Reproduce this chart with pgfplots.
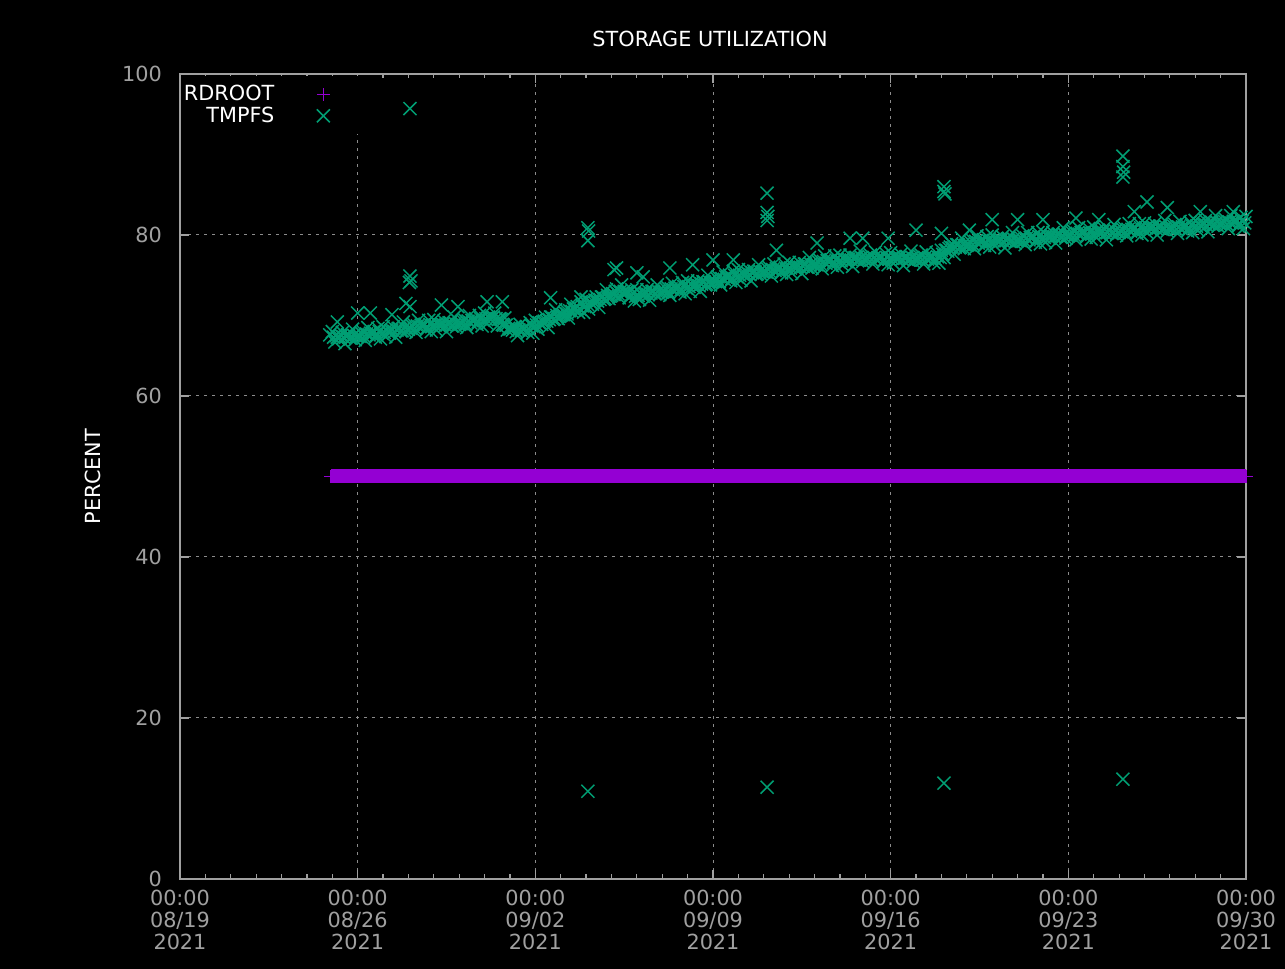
\documentclass[border=0pt]{standalone}
\usepackage{pgfplots}
\pgfplotsset{compat=1.18}
\usepackage{fontspec}
\setmainfont{DejaVu Sans}
\definecolor{rdroot}{HTML}{9400D3}
\definecolor{tmpfs}{HTML}{009E73}
\definecolor{axgray}{HTML}{A0A0A0}
\definecolor{gridgray}{HTML}{8C8C8C}
\newcommand{\lblfont}{\fontsize{10.4}{11}\selectfont}

% TMPFS: main band (three interleaved samplings), points above the band, outliers
\pgfplotstableread{
day val
5.9 67.6
6.0 68.0
6.2 67.3
6.4 67.9
6.6 67.6
6.8 68.3
7.0 67.4
7.2 68.0
7.4 68.5
7.6 67.8
7.8 68.4
8.0 68.6
8.2 68.0
8.4 68.6
8.6 68.4
8.8 69.2
9.0 68.3
9.2 68.9
9.4 69.4
9.6 68.8
9.8 69.4
10.0 69.5
10.2 68.8
10.4 69.3
10.6 69.1
10.8 69.8
11.0 68.9
11.2 69.5
11.4 70.0
11.6 69.4
11.8 70.0
12.0 70.3
12.2 69.7
12.4 70.3
12.6 69.6
12.8 69.7
13.0 68.3
13.2 68.6
13.4 68.9
13.6 68.4
13.8 69.1
14.0 69.4
14.2 69.0
14.4 69.8
14.6 69.8
14.8 70.7
15.0 70.0
15.2 70.7
15.4 71.4
15.6 70.9
15.8 71.7
16.0 72.0
16.2 71.6
16.4 72.3
16.6 72.3
16.8 73.2
17.0 72.5
17.2 73.3
17.4 73.8
17.6 72.9
17.8 73.2
18.0 73.2
18.2 72.6
18.4 73.2
18.6 73.0
18.8 73.8
19.0 72.9
19.2 73.5
19.4 74.0
19.6 73.4
19.8 74.1
20.0 74.3
20.2 73.7
20.4 74.3
20.6 74.2
20.8 75.0
21.0 74.2
21.2 74.8
21.4 75.4
21.6 74.8
21.8 75.5
22.0 75.7
22.2 75.1
22.4 75.7
22.6 75.5
22.8 76.3
23.0 75.4
23.2 76.0
23.4 76.4
23.6 75.8
23.8 76.4
24.0 76.6
24.2 76.0
24.4 76.6
24.6 76.4
24.8 77.2
25.0 76.3
25.2 76.9
25.4 77.4
25.6 76.8
25.8 77.4
26.0 77.5
26.2 76.9
26.4 77.5
26.6 77.2
26.8 78.0
27.0 77.0
27.2 77.5
27.4 77.9
27.6 77.2
27.8 77.7
28.0 77.8
28.2 77.1
28.4 77.6
28.6 77.3
28.8 78.0
29.0 77.0
29.2 77.5
29.4 77.9
29.6 77.2
29.8 77.8
30.0 78.1
30.2 78.1
30.4 78.9
30.6 78.8
30.8 79.6
31.0 78.7
31.2 79.4
31.4 79.9
31.6 79.3
31.8 79.8
32.0 80.0
32.2 79.3
32.4 79.8
32.6 79.5
32.8 80.3
33.0 79.3
33.2 79.9
33.4 80.3
33.6 79.7
33.8 80.3
34.0 80.4
34.2 79.8
34.4 80.3
34.6 80.1
34.8 80.9
35.0 79.9
35.2 80.5
35.4 80.9
35.6 80.3
35.8 80.8
36.0 81.0
36.2 80.3
36.4 80.8
36.6 80.6
36.8 81.3
37.0 80.3
37.2 80.9
37.4 81.4
37.6 80.8
37.8 81.4
38.0 81.5
38.2 80.9
38.4 81.4
38.6 81.1
38.8 81.8
39.0 80.8
39.2 81.3
39.4 81.7
39.6 81.0
39.8 81.6
40.0 81.8
40.2 81.2
40.4 81.8
40.6 81.6
40.8 82.4
41.0 81.4
41.2 81.9
41.4 82.4
41.6 81.7
41.8 82.2
42.0 82.3
6.1 66.7
6.3 67.3
6.5 66.5
6.7 67.2
6.9 67.0
7.1 67.4
7.3 66.9
7.5 67.8
7.7 67.3
7.9 67.1
8.1 67.4
8.3 68.1
8.5 67.3
8.7 68.1
8.9 68.0
9.1 68.4
9.3 67.9
9.5 68.8
9.7 68.2
9.9 68.0
10.1 68.2
10.3 68.8
10.5 68.0
10.7 68.7
10.9 68.6
11.1 69.0
11.3 68.5
11.5 69.4
11.7 68.9
11.9 68.7
12.1 69.0
12.3 69.7
12.5 68.7
12.7 68.9
12.9 68.2
13.1 68.2
13.3 67.5
13.5 68.3
13.7 67.9
13.9 67.8
14.1 68.3
14.3 69.2
14.5 68.5
14.7 69.5
14.9 69.6
15.1 70.1
15.3 69.7
15.5 70.8
15.7 70.4
15.9 70.4
16.1 70.8
16.3 71.7
16.5 71.0
16.7 72.0
16.9 72.1
17.1 72.6
17.3 72.2
17.5 73.0
17.7 72.2
17.9 71.8
18.1 72.0
18.3 72.7
18.5 71.9
18.7 72.7
18.9 72.6
19.1 73.0
19.3 72.5
19.5 73.4
19.7 72.9
19.9 72.7
20.1 73.0
20.3 73.8
20.5 73.0
20.7 73.8
20.9 73.8
21.1 74.2
21.3 73.8
21.5 74.8
21.7 74.3
21.9 74.1
22.1 74.4
22.3 75.1
22.5 74.3
22.7 75.1
22.9 75.1
23.1 75.4
23.3 74.9
23.5 75.8
23.7 75.3
23.9 75.1
24.1 75.3
24.3 76.0
24.5 75.2
24.7 76.0
24.9 75.9
25.1 76.3
25.3 75.8
25.5 76.8
25.7 76.2
25.9 76.0
26.1 76.3
26.3 76.9
26.5 76.1
26.7 76.8
26.9 76.7
27.1 77.0
27.3 76.4
27.5 77.2
27.7 76.6
27.9 76.3
28.1 76.5
28.3 77.1
28.5 76.2
28.7 76.9
28.9 76.7
29.1 77.0
29.3 76.4
29.5 77.2
29.7 76.6
29.9 76.5
30.1 77.2
30.3 78.3
30.5 77.6
30.7 78.4
30.9 78.3
31.1 78.8
31.3 78.3
31.5 79.2
31.7 78.7
31.9 78.5
32.1 78.7
32.3 79.3
32.5 78.4
32.7 79.2
32.9 79.0
33.1 79.3
33.3 78.8
33.5 79.7
33.7 79.1
33.9 78.9
34.1 79.1
34.3 79.8
34.5 79.0
34.7 79.7
34.9 79.6
35.1 80.0
35.3 79.4
35.5 80.3
35.7 79.7
35.9 79.5
36.1 79.7
36.3 80.3
36.5 79.4
36.7 80.2
36.9 80.0
37.1 80.4
37.3 79.9
37.5 80.7
37.7 80.2
37.9 80.0
38.1 80.3
38.3 80.9
38.5 80.0
38.7 80.7
38.9 80.5
39.1 80.8
39.3 80.2
39.5 81.0
39.7 80.5
39.9 80.3
40.1 80.6
40.3 81.3
40.5 80.4
40.7 81.2
40.9 81.1
41.1 81.4
41.3 80.8
41.5 81.7
41.7 81.1
41.9 80.8
6.05 67.3
6.15 67.5
6.25 67.1
6.35 67.5
6.45 67.3
6.55 67.4
6.65 67.6
6.75 67.2
6.85 67.5
6.95 67.4
7.05 67.5
7.15 67.8
7.25 67.4
7.35 67.7
7.45 67.6
7.55 67.7
7.65 68.0
7.75 67.6
7.85 68.0
7.95 67.8
8.05 67.9
8.15 68.2
8.25 67.8
8.35 68.2
8.45 68.0
8.55 68.2
8.65 68.4
8.75 68.1
8.85 68.5
8.95 68.3
9.05 68.5
9.15 68.7
9.25 68.4
9.35 68.7
9.45 68.6
9.55 68.7
9.65 68.9
9.75 68.5
9.85 68.9
9.95 68.7
10.05 68.8
10.15 69.0
10.25 68.6
10.35 68.9
10.45 68.8
10.55 68.9
10.65 69.1
10.75 68.7
10.85 69.0
10.95 68.9
11.05 69.0
11.15 69.3
11.25 68.9
11.35 69.3
11.45 69.1
11.55 69.3
11.65 69.6
11.75 69.2
11.85 69.6
11.95 69.4
12.05 69.6
12.15 69.8
12.25 69.5
12.35 69.8
12.45 69.6
12.55 69.5
12.65 69.5
12.75 68.8
12.85 68.8
12.95 68.4
13.05 68.4
13.15 68.5
13.25 68.0
13.35 68.2
13.45 68.1
13.55 68.3
13.65 68.6
13.75 68.3
13.85 68.7
13.95 68.6
14.05 68.8
14.15 69.1
14.25 68.9
14.35 69.3
14.45 69.3
14.55 69.5
14.65 69.8
14.75 69.6
14.85 70.0
14.95 69.9
15.05 70.1
15.15 70.4
15.25 70.2
15.35 70.6
15.45 70.5
15.55 70.7
15.65 71.1
15.75 70.8
15.85 71.2
15.95 71.1
16.05 71.4
16.15 71.7
16.25 71.4
16.35 71.9
16.45 71.8
16.55 72.0
16.65 72.3
16.75 72.1
16.85 72.5
16.95 72.4
17.05 72.7
17.15 73.0
17.25 72.7
17.35 73.0
17.45 72.8
17.55 72.8
17.65 73.0
17.75 72.5
17.85 72.7
17.95 72.4
18.05 72.5
18.15 72.8
18.25 72.4
18.35 72.8
18.45 72.6
18.55 72.8
18.65 73.0
18.75 72.7
18.85 73.0
18.95 72.9
19.05 73.0
19.15 73.3
19.25 72.9
19.35 73.3
19.45 73.2
19.55 73.3
19.65 73.6
19.75 73.2
19.85 73.6
19.95 73.4
20.05 73.6
20.15 73.9
20.25 73.5
20.35 73.9
20.45 73.7
20.55 73.9
20.65 74.2
20.75 73.9
20.85 74.2
20.95 74.1
21.05 74.3
21.15 74.6
21.25 74.2
21.35 74.6
21.45 74.5
21.55 74.7
21.65 75.0
21.75 74.6
21.85 75.0
21.95 74.8
22.05 75.0
22.15 75.2
22.25 74.9
22.35 75.3
22.45 75.1
22.55 75.3
22.65 75.5
22.75 75.2
22.85 75.5
22.95 75.4
23.05 75.5
23.15 75.8
23.25 75.4
23.35 75.7
23.45 75.6
23.55 75.7
23.65 75.9
23.75 75.6
23.85 75.9
23.95 75.8
24.05 75.9
24.15 76.1
24.25 75.8
24.35 76.1
24.45 76.0
24.55 76.1
24.65 76.4
24.75 76.0
24.85 76.4
24.95 76.3
25.05 76.4
25.15 76.7
25.25 76.3
25.35 76.7
25.45 76.5
25.55 76.7
25.65 76.9
25.75 76.6
25.85 76.9
25.95 76.7
26.05 76.8
26.15 77.1
26.25 76.7
26.35 77.0
26.45 76.9
26.55 77.0
26.65 77.2
26.75 76.9
26.85 77.2
26.95 77.0
27.05 77.1
27.15 77.3
27.25 76.9
27.35 77.2
27.45 77.0
27.55 77.1
27.65 77.3
27.75 76.9
27.85 77.2
27.95 77.0
28.05 77.1
28.15 77.3
28.25 76.9
28.35 77.2
28.45 77.0
28.55 77.1
28.65 77.3
28.75 76.9
28.85 77.2
28.95 77.0
29.05 77.1
29.15 77.3
29.25 76.9
29.35 77.2
29.45 77.0
29.55 77.1
29.65 77.3
29.75 77.0
29.85 77.3
29.95 77.2
30.05 77.6
30.15 78.1
30.25 78.0
30.35 78.5
30.45 78.4
30.55 78.5
30.65 78.8
30.75 78.5
30.85 78.8
30.95 78.7
31.05 78.8
31.15 79.1
31.25 78.8
31.35 79.2
31.45 79.0
31.55 79.2
31.65 79.4
31.75 79.0
31.85 79.3
31.95 79.2
32.05 79.3
32.15 79.5
32.25 79.1
32.35 79.4
32.45 79.2
32.55 79.3
32.65 79.6
32.75 79.2
32.85 79.5
32.95 79.3
33.05 79.4
33.15 79.6
33.25 79.3
33.35 79.6
33.45 79.4
33.55 79.6
33.65 79.8
33.75 79.4
33.85 79.8
33.95 79.6
34.05 79.7
34.15 80.0
34.25 79.6
34.35 79.9
34.45 79.8
34.55 79.9
34.65 80.1
34.75 79.7
34.85 80.1
34.95 79.9
35.05 80.0
35.15 80.3
35.25 79.9
35.35 80.2
35.45 80.1
35.55 80.2
35.65 80.4
35.75 80.0
35.85 80.3
35.95 80.2
36.05 80.3
36.15 80.5
36.25 80.1
36.35 80.4
36.45 80.2
36.55 80.3
36.65 80.6
36.75 80.2
36.85 80.5
36.95 80.3
37.05 80.5
37.15 80.7
37.25 80.3
37.35 80.7
37.45 80.5
37.55 80.7
37.65 80.9
37.75 80.5
37.85 80.9
37.95 80.7
38.05 80.9
38.15 81.1
38.25 80.7
38.35 81.0
38.45 80.8
38.55 80.9
38.65 81.1
38.75 80.7
38.85 81.0
38.95 80.8
39.05 80.9
39.15 81.1
39.25 80.7
39.35 81.0
39.45 80.8
39.55 80.9
39.65 81.2
39.75 80.8
39.85 81.2
39.95 81.0
40.05 81.1
40.15 81.4
40.25 81.0
40.35 81.4
40.45 81.2
40.55 81.4
40.65 81.6
40.75 81.3
40.85 81.6
40.95 81.4
41.05 81.5
41.15 81.7
41.25 81.3
41.35 81.6
41.45 81.5
41.55 81.6
41.65 81.8
41.75 81.4
41.85 81.7
41.95 81.5
6.2 69.2
7.0 70.3
7.5 70.3
8.35 70.1
8.9 71.5
9.06 71.1
10.3 71.3
10.95 71.1
12.1 71.7
12.7 71.7
14.6 72.2
15.8 72.3
17.1 75.7
17.2 75.9
18.0 75.3
18.25 74.8
19.3 75.9
20.2 76.3
21.0 76.9
21.8 76.9
23.5 78.1
25.1 79.0
26.4 79.6
26.9 79.6
27.9 79.6
29.0 80.6
30.0 80.2
31.1 80.6
32.0 81.9
33.0 81.9
34.0 81.9
35.3 82.1
36.2 81.9
37.6 82.9
38.1 84.1
38.9 83.4
40.2 82.9
41.5 82.9
9.06 95.7
9.06 74.9
9.10 74.3
9.04 74.1
16.07 80.9
16.10 80.5
16.07 79.3
16.07 10.9
23.13 85.2
23.13 82.8
23.16 82.3
23.13 81.8
23.13 11.4
30.10 86.0
30.10 85.4
30.14 85.1
30.10 11.9
37.15 89.8
37.15 88.5
37.18 87.8
37.15 87.2
37.15 12.4
}\tmpfsdata

\begin{document}
\begin{tikzpicture}
\fill[black] (0,0) rectangle (642.5pt,484.5pt);
\begin{axis}[
  at={(90pt,45pt)}, anchor=south west,
  scale only axis, width=533pt, height=402.5pt,
  xmin=0, xmax=42, ymin=0, ymax=100,
  clip=false,
  xtick={0,7,14,21,28,35,42},
  xticklabels={{00:00\\08/19\\2021},{00:00\\08/26\\2021},{00:00\\09/02\\2021},{00:00\\09/09\\2021},{00:00\\09/16\\2021},{00:00\\09/23\\2021},{00:00\\09/30\\2021}},
  minor x tick num=6,
  ytick={0,20,40,60,80,100},
  tick align=inside,
  major tick length=4.5pt, minor tick length=2.25pt,
  axis line style={axgray, line width=0.8pt},
  tick style={axgray, line width=0.6pt},
  grid=major,
  major grid style={gridgray, line width=0.5pt, dash pattern=on 1.6pt off 2.4pt},
  tick label style={text=axgray, font=\lblfont},
  xticklabel style={align=center, yshift=-2pt},
  yticklabel style={xshift=-5.5pt},
  /pgf/number format/assume math mode=true,
  title={STORAGE UTILIZATION},
  title style={at={(axis description cs:0.5,1)}, anchor=center, yshift=11.5pt, xshift=-1.5pt, text=white, font=\lblfont},
  ylabel={PERCENT},
  ylabel style={at={([xshift=-43.5pt]axis description cs:0,0.5)}, anchor=center, text=white, font=\lblfont},
  legend style={at={([xshift=0.8pt,yshift=-0.8pt]rel axis cs:0,1)}, anchor=north west, fill=black, draw=none, text=white, font=\lblfont,
    inner xsep=0pt, inner ysep=3.7pt, row sep=-0.6pt, nodes={inner sep=1pt}},
  legend cell align=right,
  legend plot pos=right,
]
\addplot[color=rdroot, line width=7pt, mark=+, mark size=3.3pt, mark options={line width=0.6pt, solid},
  legend image code/.code={\draw[rdroot, line width=0.6pt] plot[mark=+, mark size=3.3pt, only marks] coordinates {(20pt,0pt)}; \path (0pt,0pt) (34pt,0pt);}]
  coordinates {(5.95,50) (7,50) (8,50) (9,50) (10,50) (11,50) (12,50) (13,50) (14,50) (15,50) (16,50) (17,50) (18,50) (19,50) (20,50) (21,50) (22,50) (23,50) (24,50) (25,50) (26,50) (27,50) (28,50) (29,50) (30,50) (31,50) (32,50) (33,50) (34,50) (35,50) (36,50) (37,50) (38,50) (39,50) (40,50) (41,50) (42,50)};
\addlegendentry{RDROOT}
\addplot[only marks, color=tmpfs, mark=x, mark size=4.6pt, mark options={line width=0.75pt},
  legend image code/.code={\draw[tmpfs, line width=0.75pt] plot[mark=x, mark size=4.6pt, only marks] coordinates {(20pt,0pt)}; \path (0pt,0pt) (34pt,0pt);}]
  table[x=day, y=val] {\tmpfsdata};
\addlegendentry{TMPFS}
\end{axis}
\end{tikzpicture}
\end{document}
